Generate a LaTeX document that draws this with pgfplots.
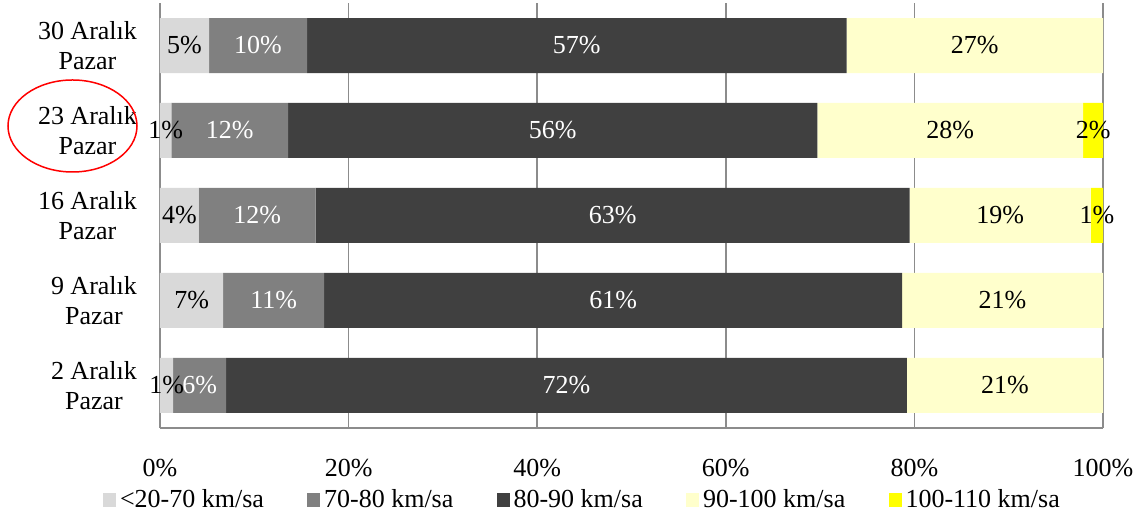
\documentclass[border=0pt]{standalone}
\usepackage{pgfplots}
\pgfplotsset{compat=1.18}
\usepackage{fontspec}
\setmainfont{Liberation Serif}
\definecolor{c1}{HTML}{D9D9D9}
\definecolor{c2}{HTML}{808080}
\definecolor{c3}{HTML}{404040}
\definecolor{c4}{HTML}{FFFFCC}
\definecolor{c5}{HTML}{FFFF00}
\definecolor{gridgray}{HTML}{8C8C8C}
\begin{document}
\begin{tikzpicture}[font=\fontsize{13}{15}\selectfont]
\begin{axis}[
  scale only axis, width=471.5pt, height=212.5pt,
  xbar stacked, bar width=27.5pt,
  xmin=0, xmax=100, ymin=-0.5, ymax=4.5,
  xtick={0,20,...,100},
  xticklabel={\pgfmathprintnumber[assume math mode=true]{\tick}\%},
  xticklabel style={yshift=-12pt},
  ytick={0,1,2,3,4},
  yticklabels={{2 Aralık\\Pazar},{9 Aralık\\Pazar},{16 Aralık\\Pazar},{23 Aralık\\Pazar},{30 Aralık\\Pazar}},
  yticklabel style={align=center, xshift=-8pt},
  major tick length=0pt, tick style={draw=none},
  separate axis lines, axis x line*=bottom, axis y line*=left,
  axis line style={draw=gridgray, line width=0.75pt, -},
  xmajorgrids, major grid style={draw=gridgray, line width=0.75pt},
  point meta=explicit symbolic,
  nodes near coords={\pgfplotspointmeta},
  every node near coord/.append style={anchor=center},
  legend columns=5,
  legend style={at={(0.449,-0.169)}, anchor=center, draw=none, fill=none,
    /tikz/every even column/.append style={column sep=19.6pt}},
  legend image code/.code={\path[#1] (0pt,-3.5pt) rectangle (6.5pt,3.5pt);},
]
\addplot[fill=c1, draw=none, every node near coord/.append style={black}] coordinates {
  (1.4,0) [1\%] (6.7,1) [7\%] (4.1,2) [4\%] (1.2,3) [1\%] (5.2,4) [5\%]};
\addplot[fill=c2, draw=none, every node near coord/.append style={white}] coordinates {
  (5.6,0) [6\%] (10.7,1) [11\%] (12.4,2) [12\%] (12.4,3) [12\%] (10.4,4) [10\%]};
\addplot[fill=c3, draw=none, every node near coord/.append style={white}] coordinates {
  (72.2,0) [72\%] (61.3,1) [61\%] (63.0,2) [63\%] (56.1,3) [56\%] (57.2,4) [57\%]};
\addplot[fill=c4, draw=none, every node near coord/.append style={black}] coordinates {
  (20.8,0) [21\%] (21.3,1) [21\%] (19.2,2) [19\%] (28.2,3) [28\%] (27.2,4) [27\%]};
\addplot[fill=c5, draw=none, every node near coord/.append style={black}] coordinates {
  (0,0) [{}] (0,1) [{}] (1.3,2) [1\%] (2.1,3) [2\%] (0,4) [{}]};
\legend{<20-70 km/sa, 70-80 km/sa, 80-90 km/sa, 90-100 km/sa, 100-110 km/sa}
\end{axis}
\draw[red, line width=0.75pt] (-43.75pt,151pt) ellipse (32.25pt and 23pt);
\pgfresetboundingbox
\path[use as bounding box] (-80pt,-47.5pt) rectangle (493pt,214pt);
\end{tikzpicture}
\end{document}
